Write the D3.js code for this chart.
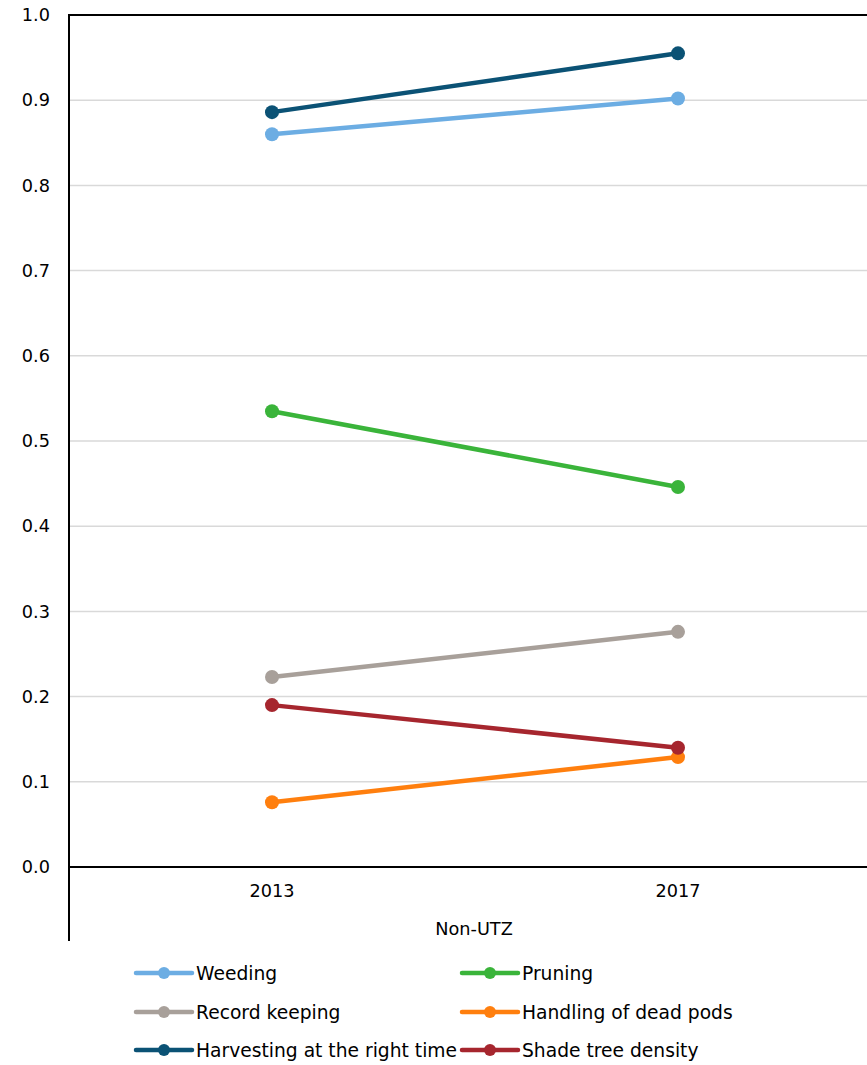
<!DOCTYPE html>
<html><head><meta charset="utf-8">
<script src="https://cdn.jsdelivr.net/npm/d3@7"></script>
<style>body{margin:0;background:#fff}svg{display:block}text{font-family:"DejaVu Sans",Verdana,sans-serif;fill:#000}</style>
</head><body>
<svg id="c" width="867" height="1065"></svg>
<script>
const years = ["2013", "2017"];
const seriesNames = ["Weeding", "Pruning", "Record keeping", "Handling of dead pods", "Harvesting at the right time", "Shade tree density"];
const weeding = [0.860, 0.902];
const pruning = [0.535, 0.446];
const recordKeeping = [0.223, 0.276];
const deadPods = [0.076, 0.129];
const harvesting = [0.886, 0.955];
const shadeTree = [0.190, 0.140];
const colors = ["#6CADE3", "#3AB43A", "#A8A09A", "#FF7F0E", "#0B5275", "#A6262E"];
const yTicks = [0, 0.1, 0.2, 0.3, 0.4, 0.5, 0.6, 0.7, 0.8, 0.9, 1.0];
const groupLabel = "Non-UTZ";

const seriesValues = [weeding, pruning, recordKeeping, deadPods, harvesting, shadeTree];
const drawOrder = [0, 1, 2, 3, 5, 4];

(function () {
const svg = d3.select("#c");
const mL = 69, mR = 881, mT = 15, mB = 867;
const fs = 17.7, lfs = 18.7;
const x = d3.scaleBand().domain(years).range([mL, mR]);
const y = d3.scaleLinear().domain([0, 1]).range([mB, mT]);

svg.append("g").selectAll("line").data(yTicks.filter(d => d > 0 && d < 1)).join("line")
  .attr("x1", mL).attr("x2", 867).attr("y1", d => y(d)).attr("y2", d => y(d))
  .attr("stroke", "#d9d9d9").attr("stroke-width", 1.5);

svg.append("line").attr("x1", mL).attr("x2", 867).attr("y1", y(1)).attr("y2", y(1))
  .attr("stroke", "#000").attr("stroke-width", 2);
svg.append("line").attr("x1", mL).attr("x2", 867).attr("y1", y(0)).attr("y2", y(0))
  .attr("stroke", "#000").attr("stroke-width", 2);
svg.append("line").attr("x1", mL).attr("x2", mL).attr("y1", mT - 1).attr("y2", 941)
  .attr("stroke", "#000").attr("stroke-width", 2);

svg.append("g").selectAll("text").data(yTicks).join("text")
  .attr("x", 50).attr("y", d => y(d)).attr("dy", "0.35em")
  .attr("text-anchor", "end").attr("font-size", fs)
  .text(d => d3.format(".1f")(d));

svg.append("g").selectAll("text").data(years).join("text")
  .attr("x", d => x(d) + x.bandwidth() / 2).attr("y", 897)
  .attr("text-anchor", "middle").attr("font-size", fs).text(d => d);

svg.append("text").attr("x", 474).attr("y", 935).attr("text-anchor", "middle")
  .attr("font-size", fs).text(groupLabel);

const cx = d => x(d) + x.bandwidth() / 2;
const line = d3.line().x((v, i) => cx(years[i])).y(v => y(v));

drawOrder.forEach(si => {
  const g = svg.append("g");
  g.append("path").attr("d", line(seriesValues[si])).attr("fill", "none")
    .attr("stroke", colors[si]).attr("stroke-width", 4.5);
  g.selectAll("circle").data(seriesValues[si]).join("circle")
    .attr("cx", (v, i) => cx(years[i])).attr("cy", v => y(v)).attr("r", 7)
    .attr("fill", colors[si]);
});

const legX = [136, 462], legY = [973, 1012, 1050];
seriesNames.forEach((name, i) => {
  const lx = legX[i % 2], ly = legY[Math.floor(i / 2)];
  const g = svg.append("g");
  g.append("line").attr("x1", lx).attr("x2", lx + 56).attr("y1", ly).attr("y2", ly)
    .attr("stroke", colors[i]).attr("stroke-width", 4.5).attr("stroke-linecap", "round");
  g.append("circle").attr("cx", lx + 28).attr("cy", ly).attr("r", 6).attr("fill", colors[i]);
  g.append("text").attr("x", lx + 60).attr("y", ly).attr("dy", "0.35em")
    .attr("font-size", lfs).text(name);
});
})();
</script>
</body></html>
